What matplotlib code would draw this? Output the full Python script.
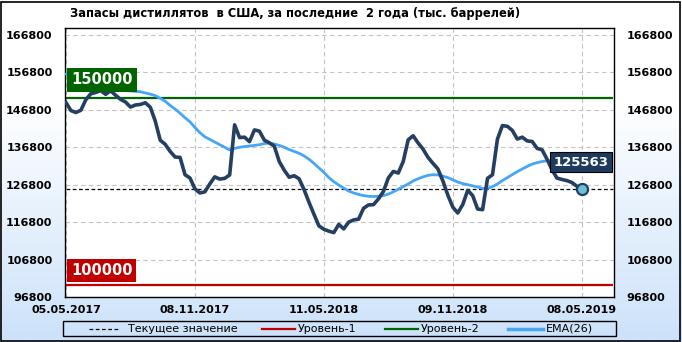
import numpy as np
import matplotlib
matplotlib.use('Agg')
import matplotlib.pyplot as plt
from matplotlib.lines import Line2D
from matplotlib.patches import Rectangle
from matplotlib.colors import LinearSegmentedColormap

plt.rcParams['font.family'] = ['DejaVu Sans']

title = "Запасы дистиллятов  в США, за последние  2 года (тыс. баррелей)"

stocks = [148750, 146600, 146100, 146700, 149500, 151100, 151450, 151950, 150950, 151900,
          150700, 149600, 148900, 147550, 148100, 148250, 148700, 147500, 143800, 138700,
          137600, 135700, 134200, 134100, 129470, 128590, 125700, 124600, 124900, 127000,
          128900, 128300, 128500, 129400, 142800, 139400, 139500, 138300, 141450, 141100,
          138700, 138000, 137100, 133000, 130700, 128800, 129200, 128400, 125500, 122100,
          118900, 115800, 114900, 114400, 114000, 116200, 115000, 116800, 117400, 117600,
          120500, 121400, 121470, 123000, 125000, 128600, 130350, 129920, 133010, 138800,
          139870, 137950, 136300, 134100, 132500, 131000, 127800, 124000, 120800, 119250,
          121500, 125300, 123900, 120300, 120130, 128500, 129470, 139000, 142600, 142400,
          141300, 139000, 139500, 138500, 138350, 136500, 136130, 133600, 130800, 128570,
          128200, 127900, 127400, 126400, 125563]

ema26 = [156400, 155600, 154900, 154200, 153600, 153200, 152900, 152600, 152400, 152300,
         152100, 152000, 151950, 151850, 151750, 151650, 151300, 151000, 150600, 149900,
         149100, 148000, 147000, 145900, 144700, 143600, 142100, 140700, 139600, 138900,
         138200, 137500, 136800, 136100, 136500, 136800, 137000, 137150, 137300, 137500,
         137800, 137900, 137700, 137300, 136800, 136200, 135700, 135200, 134500, 133600,
         132500, 131300, 130100, 128700, 127600, 126700, 125900, 125100, 124600, 124200,
         123900, 123700, 123650, 123700, 123900, 124300, 124900, 125600, 126300, 127000,
         127800, 128400, 128900, 129300, 129470, 129400, 129100, 128700, 128100, 127500,
         127100, 126800, 126500, 126200, 125800, 125800, 126300, 127000, 127900, 128700,
         129500, 130300, 131000, 131700, 132300, 132700, 133000, 133200, 133300, 133200,
         133000, 132700, 132400, 132000, 131600]

level1 = 100000
level2 = 150000
current = 125563
x_tick_pos = [0, 26, 52, 78, 104]
x_tick_labels = ["05.05.2017", "08.11.2017", "11.05.2018", "09.11.2018", "08.05.2019"]
y_ticks = list(range(96800, 166801, 10000))
legend_labels = ["Текущее значение", "Уровень-1", "Уровень-2", "EMA(26)"]

W, H = 682, 342
fig = plt.figure(figsize=(W / 100, H / 100), dpi=100)

# background gradient
bg = fig.add_axes([0, 0, 1, 1], zorder=-10)
grad = np.linspace(0, 1, 256).reshape(-1, 1)
cmap = LinearSegmentedColormap.from_list('g', [(0, '#ffffff'), (0.3, '#ffffff'), (1, '#cce2fa')])
bg.imshow(grad, aspect='auto', cmap=cmap, extent=[0, 1, 0, 1])
bg.set_xlim(0, 1)
bg.set_ylim(0, 1)
bg.axis('off')
fig.add_artist(Rectangle((1 / W, 1 / H), (W - 3) / W, (H - 3) / H, transform=fig.transFigure,
                         fill=False, edgecolor='black', lw=1.2))

DARK = '#243f61'
BLUE = '#45a6f7'
GREEN = '#006400'
RED = '#c00000'

ax = fig.add_axes([65 / W, 1 - 297 / H, 549 / W, 269 / H])
ax.set_facecolor('white')
x = np.arange(len(stocks))
ax.set_xlim(-0.2, 110.5)
ax.set_ylim(96800, 168670)

ax.set_axisbelow(True)
ax.grid(True, color='#c4c4c4', linestyle=(0, (4, 3)), lw=0.8)

ax.hlines(level2, 0, 110.2, color=GREEN, lw=1.6, zorder=2)
ax.hlines(level1, 0, 110.2, color=RED, lw=1.6, zorder=2)
ax.hlines(current, 0, 110.2, color='black', lw=0.9, linestyles=(0, (3, 2)), zorder=2)

ax.plot(x, ema26, color=BLUE, lw=2.0, zorder=3, solid_capstyle='round')
ax.plot(x, stocks, color=DARK, lw=2.6, zorder=4, solid_joinstyle='round')
ax.plot([x[-1]], [stocks[-1]], 'o', ms=8, mfc='#6cc0d6', mec=DARK, mew=1.6, zorder=6)

bold = dict(color='white', fontweight='bold', fontsize=10.5)
ax.text(1.0, 154800, f"{level2:d}", ha='left', va='center', zorder=7,
        bbox=dict(boxstyle='square,pad=0.3', fc=GREEN, ec='none'), **bold)
ax.text(1.0, 103900, f"{level1:d}", ha='left', va='center', zorder=7,
        bbox=dict(boxstyle='square,pad=0.25', fc=RED, ec='none'), **bold)
ax.text(103.9, 132800, f"{current:d}", ha='center', va='center', zorder=7,
        color='white', fontweight='bold', fontsize=9.5,
        bbox=dict(boxstyle='square,pad=0.25', fc='#1f3a5f', ec='black', lw=0.8))

ax.set_xticks(x_tick_pos)
ax.set_xticklabels(x_tick_labels)
ax.set_yticks(y_ticks)
ax.set_yticklabels([str(v) for v in y_ticks])
ax.tick_params(axis='both', length=0, labelsize=8)
ax.tick_params(axis='y', pad=9, labelright=True)
ax.tick_params(axis='x', pad=6)
for t in ax.xaxis.get_major_ticks() + ax.yaxis.get_major_ticks():
    t.label1.set_fontweight('bold')
    t.label2.set_fontweight('bold')
for s in ax.spines.values():
    s.set_color('black')
    s.set_linewidth(1.0)

fig.text(70 / W, 1 - 13 / H, title, ha='left', va='center', fontsize=8.3, fontweight='bold')

# legend
fig.add_artist(Rectangle((63 / W, 1 - 336 / H), 553 / W, 15 / H, transform=fig.transFigure,
                         fill=False, edgecolor='black', lw=1.0))
ly = 1 - 328.5 / H
items = [((89, 120), dict(color='black', lw=0.9, linestyle=(0, (3, 2))), 128),
         ((262, 295), dict(color=RED, lw=1.6), 298),
         ((385, 418), dict(color=GREEN, lw=1.6), 421),
         ((508, 543), dict(color=BLUE, lw=2.5), 546)]
for ((x0, x1), st, tx), lab in zip(items, legend_labels):
    fig.add_artist(Line2D([x0 / W, x1 / W], [ly, ly], transform=fig.transFigure, **st))
    fig.text(tx / W, ly, lab, ha='left', va='center', fontsize=8)

fig.savefig('out.png', dpi=100)
